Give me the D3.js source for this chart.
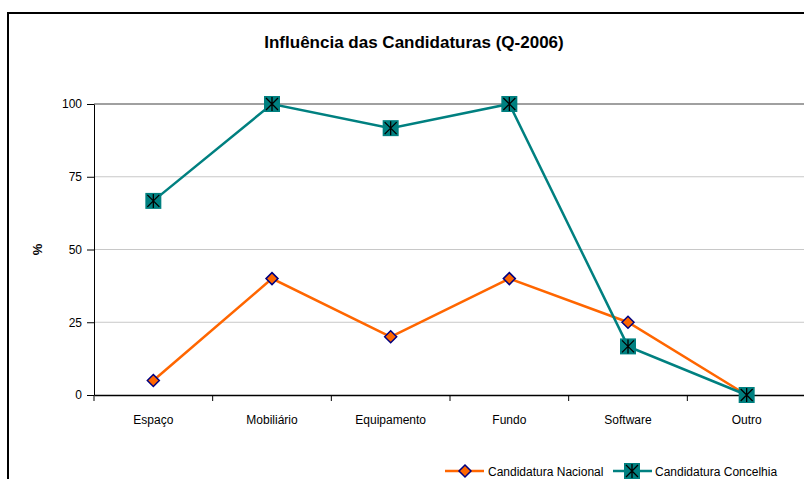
<!DOCTYPE html>
<html><head><meta charset="utf-8">
<script src="https://cdn.jsdelivr.net/npm/d3@7"></script>
<style>body{margin:0;background:#fff}svg{display:block;font-family:"Liberation Sans",Arial,sans-serif}</style>
</head><body><div id="chart"></div>
<script>
const categories = ["Espaço","Mobiliário","Equipamento","Fundo","Software","Outro"];
const nacional = [5, 40, 20, 40, 25, 0];
const concelhia = [66.7, 100, 91.7, 100, 16.7, 0];
const yTicks = [0, 25, 50, 75, 100];
const seriesNames = ["Candidatura Nacional","Candidatura Concelhia"];
const title = "Influência das Candidaturas (Q-2006)";

(function () {
const W = 804, H = 479;
const svg = d3.select("#chart").append("svg").attr("width", W).attr("height", H);

// outer border
svg.append("path").attr("d", `M8,${H} L8,13 L${W},13`).attr("fill","none").attr("stroke","#000").attr("stroke-width",2);

const pL = 94, pR = 806, pT = 104, pB = 395;
const x = d3.scaleBand().domain(categories).range([pL, pR]);
const y = d3.scaleLinear().domain([0, 100]).range([pB, pT]);

// gridlines
svg.append("g").selectAll("line").data(yTicks.filter(d => d > 0)).join("line")
  .attr("x1", pL).attr("x2", pR).attr("y1", d => y(d)).attr("y2", d => y(d))
  .attr("stroke", d => d === 100 ? "#a0a0a0" : "#c8c8c8")
  .attr("stroke-width", d => d === 100 ? 2 : 1);

// y axis
const ya = svg.append("g").attr("transform", `translate(${pL},0)`)
  .call(d3.axisLeft(y).tickValues(yTicks).tickSize(7).tickPadding(5).tickSizeOuter(0));
ya.select(".domain").attr("stroke","#000");
ya.selectAll(".tick line").attr("stroke","#000");
ya.selectAll("text").attr("font-size", 12).attr("fill","#000");

// x axis
const xa = svg.append("g").attr("transform", `translate(0,${pB})`)
  .call(d3.axisBottom(x).tickSize(0).tickPadding(20).tickSizeOuter(0));
xa.select(".domain").attr("stroke","#000").attr("stroke-width",1.5);
xa.selectAll("text").attr("font-size", 12).attr("fill","#000");
// category boundary ticks
svg.append("g").selectAll("line").data(d3.range(categories.length + 1)).join("line")
  .attr("x1", i => pL + i * x.step()).attr("x2", i => pL + i * x.step())
  .attr("y1", pB).attr("y2", pB + 6).attr("stroke","#000");

// y label
svg.append("text").attr("transform", `translate(42,${(pT+pB)/2}) rotate(-90)`)
  .attr("text-anchor","middle").attr("font-size", 13).attr("font-weight","bold").text("%");

// title
svg.append("text").attr("x", 414).attr("y", 48).attr("text-anchor","middle")
  .attr("font-size", 17).attr("font-weight","bold").text(title);

const cx = (d, i) => x(categories[i]) + x.bandwidth() / 2;
const line = d3.line().x((d, i) => cx(d, i)).y(d => y(d));

svg.append("path").datum(nacional).attr("d", line).attr("fill","none").attr("stroke","#ff6600").attr("stroke-width",2.5);
svg.append("path").datum(concelhia).attr("d", line).attr("fill","none").attr("stroke","#008080").attr("stroke-width",2.5);

function starMarker(g, px, py) {
  g.append("rect").attr("x", px - 8).attr("y", py - 8).attr("width", 16).attr("height", 16).attr("fill", "#008080");
  g.append("path").attr("d", `M${px},${py-7}L${px},${py+7}M${px-6},${py-6}L${px+6},${py+6}M${px+6},${py-6}L${px-6},${py+6}`)
    .attr("stroke","#000").attr("stroke-width",1.3);
}
function diamondMarker(g, px, py) {
  g.append("path").attr("d", `M${px},${py-6}L${px+6},${py}L${px},${py+6}L${px-6},${py}Z`)
    .attr("fill","#ff6600").attr("stroke","#000080").attr("stroke-width",1.5);
}

const mg = svg.append("g");
nacional.forEach((d, i) => diamondMarker(mg, cx(d, i), y(d)));
concelhia.forEach((d, i) => starMarker(mg, cx(d, i), y(d)));

// legend
const lg = svg.append("g");
const ly = 471;
lg.append("line").attr("x1", 445).attr("x2", 484).attr("y1", ly).attr("y2", ly).attr("stroke","#ff6600").attr("stroke-width",2.5);
diamondMarker(lg, 465, ly);
lg.append("text").attr("x", 488).attr("y", ly + 4.5).attr("font-size", 12).text(seriesNames[0]);
lg.append("line").attr("x1", 613).attr("x2", 652).attr("y1", ly).attr("y2", ly).attr("stroke","#008080").attr("stroke-width",2.5);
starMarker(lg, 632, ly);
lg.append("text").attr("x", 655).attr("y", ly + 4.5).attr("font-size", 12).text(seriesNames[1]);
})();
</script></body></html>
